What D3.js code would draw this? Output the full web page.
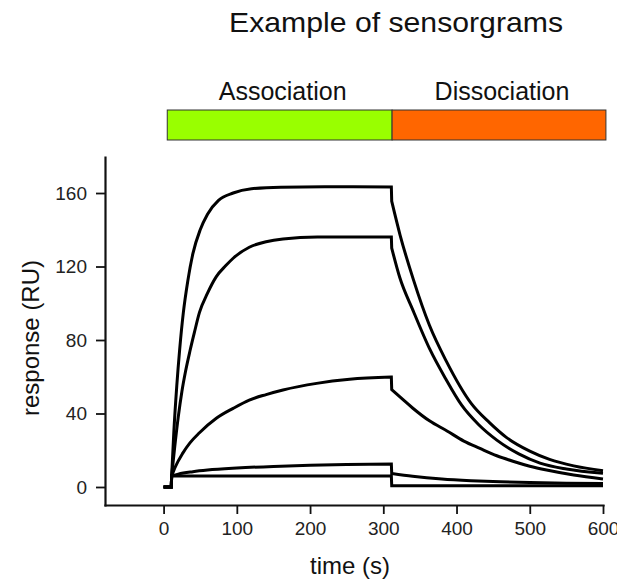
<!DOCTYPE html>
<html>
<head>
<meta charset="utf-8">
<script src="https://cdn.jsdelivr.net/npm/d3@7"></script>
<style>
  html, body { margin: 0; padding: 0; background: #fff; }
  svg { display: block; font-family: "Liberation Sans", Arial, Helvetica, sans-serif; }
</style>
</head>
<body>
<svg id="chart" width="617" height="579"></svg>
<script>
// ---- injection phases (s) ----
const phaseNames  = ["Association", "Dissociation"];
const phaseStart  = [5, 312];
const phaseEnd    = [312, 604];
const phaseColors = ["#99ff00", "#ff6600"];

// ---- axis ticks ----
const xTicks = [0, 100, 200, 300, 400, 500, 600];
const yTicks = [0, 40, 80, 120, 160];

// ---- pre-injection baseline ----
const baseT = [0, 10.5];
const baseV = [0, 0];

// last sample recorded during the injection (s)
const injectionEnd = 311;

// ---- sensorgrams: time (s) and response (RU) ----
const tA = [11, 14, 18, 22, 27, 33, 40, 50, 60, 75, 95, 120, 160, 220, 311, 311.5, 323, 341, 363, 386, 420, 445, 468, 500, 527, 560, 600];
const vA = [6, 30, 55, 75, 95, 112, 127, 140, 148.5, 156, 160, 162.3, 163.2, 163.4, 163.3, 155.5, 137, 113, 88, 68.5, 45.5, 35, 27, 19.5, 15, 11.5, 8.8];

const tB = [11, 15, 20, 25, 30, 36, 42, 49, 60, 72, 85, 95, 117, 140, 163, 210, 260, 311, 311.5, 322.5, 340.7, 363.5, 385, 407, 430, 455, 485, 514, 550, 600];
const vB = [6, 21, 38, 52, 63, 74, 84, 95, 105.5, 114.5, 120.5, 124.5, 130.5, 133.5, 135, 136, 136, 136, 130, 114, 96, 75, 59, 44.5, 34, 25.5, 18, 13, 9.8, 7.5];

const tC = [11, 16, 26, 36, 49, 72, 95, 117, 140, 163, 209, 254, 311, 311.5, 327, 340, 363, 387, 410, 432, 455, 477, 500, 523, 560, 600];
const vC = [6, 11, 18.3, 24, 29.5, 37.4, 42.8, 47.3, 50.3, 52.8, 56.4, 58.6, 59.8, 53, 47.5, 43, 36, 30.5, 25, 21, 17, 14, 11.3, 9.2, 6.5, 4.3];

const tD = [11, 20, 40, 60, 100, 150, 200, 250, 311, 311.5, 340, 380, 420, 460, 500, 550, 600];
const vD = [6, 7, 8.3, 9.2, 10.3, 11.2, 11.8, 12.2, 12.5, 7.3, 5.8, 4.3, 3.4, 2.8, 2.4, 2.1, 1.9];

const tE = [11, 311, 311.5, 600];
const vE = [6, 6, 0.7, 0.7];

const seriesT = [tA, tB, tC, tD, tE];
const seriesV = [vA, vB, vC, vD, vE];

// ---- drawing ----
const svg = d3.select("#chart");
const ink = "#111";

const x = d3.scaleLinear().domain([-80, 600]).range([105, 603]);
const y = d3.scaleLinear().domain([-9.8, 179.6]).range([505, 157]);

// title
svg.append("text")
  .attr("x", 396).attr("y", 32)
  .attr("text-anchor", "middle")
  .attr("font-size", 28)
  .attr("textLength", 334)
  .attr("lengthAdjust", "spacingAndGlyphs")
  .attr("fill", ink)
  .text("Example of sensorgrams");

// phase bar with labels
const phases = phaseNames.map((name, i) => ({ name, start: phaseStart[i], end: phaseEnd[i], color: phaseColors[i] }));

svg.append("g").selectAll("rect")
  .data(phases)
  .join("rect")
  .attr("x", d => x(d.start))
  .attr("width", d => x(d.end) - x(d.start))
  .attr("y", 110)
  .attr("height", 30)
  .attr("fill", d => d.color)
  .attr("stroke", "#333")
  .attr("stroke-width", 1);

svg.append("g").selectAll("text")
  .data(phases)
  .join("text")
  .attr("x", d => (x(d.start) + x(d.end)) / 2 + 3)
  .attr("y", 100)
  .attr("text-anchor", "middle")
  .attr("font-size", 25)
  .attr("fill", ink)
  .text(d => d.name);

// axes
const xAxis = svg.append("g")
  .attr("transform", `translate(0,${y.range()[0]})`)
  .call(d3.axisBottom(x).tickValues(xTicks).tickSize(9).tickSizeOuter(0).tickPadding(8));

const yAxis = svg.append("g")
  .attr("transform", `translate(${x.range()[0]},0)`)
  .call(d3.axisLeft(y).tickValues(yTicks).tickSize(9).tickSizeOuter(0).tickPadding(9));

[xAxis, yAxis].forEach(g => {
  g.select(".domain").attr("stroke", ink).attr("stroke-width", 2.2).attr("stroke-linecap", "square");
  g.selectAll(".tick line").attr("stroke", ink).attr("stroke-width", 1.8);
  g.selectAll(".tick text").attr("font-size", 19).attr("fill", "#222")
    .attr("font-family", "\"Liberation Sans\", Arial, sans-serif");
});

// axis titles
svg.append("text")
  .attr("x", 350).attr("y", 574)
  .attr("text-anchor", "middle")
  .attr("font-size", 24)
  .attr("fill", ink)
  .text("time (s)");

svg.append("text")
  .attr("transform", "translate(39,338) rotate(-90)")
  .attr("text-anchor", "middle")
  .attr("font-size", 24)
  .attr("fill", ink)
  .text("response (RU)");

// sensorgram traces: baseline, association and dissociation are each
// smoothed on their own, then joined by straight steps (bulk shifts)
const line = d3.line()
  .x(d => x(d[0]))
  .y(d => y(d[1]))
  .curve(d3.curveMonotoneX);

function tracePath(ts, vs) {
  const base = baseT.map((t, j) => [t, baseV[j]]);
  const assoc = [], dissoc = [];
  ts.forEach((t, j) => (t <= injectionEnd ? assoc : dissoc).push([t, vs[j]]));
  return [base, assoc, dissoc]
    .filter(seg => seg.length)
    .map((seg, k) => {
      const d = line(seg);
      return k === 0 ? d : "L" + d.slice(1);
    })
    .join("");
}

svg.append("g").selectAll("path")
  .data(seriesT.map((ts, i) => tracePath(ts, seriesV[i])))
  .join("path")
  .attr("d", d => d)
  .attr("fill", "none")
  .attr("stroke", "#000")
  .attr("stroke-width", 3)
  .attr("stroke-linejoin", "miter");
</script>
</body>
</html>
